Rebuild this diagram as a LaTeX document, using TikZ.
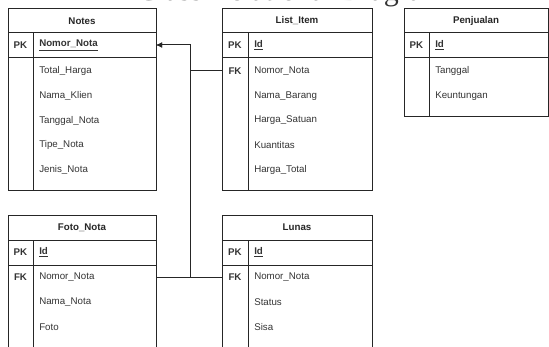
\documentclass[tikz,border=0pt]{standalone}
\usepackage{fontspec}
\setmainfont{Liberation Sans}
\newfontfamily\titlefont{Liberation Serif}
\usetikzlibrary{arrows.meta}
\begin{document}
\begin{tikzpicture}[x=0.75pt,y=-0.75pt,
  tline/.style={draw=black!85, line width=0.75pt},
  conn/.style={draw=black!85, line width=0.75pt},
  hdr/.style={font=\fontsize{7.3}{8.5}\selectfont\bfseries, text=black!85, inner sep=0},
  fld/.style={font=\fontsize{7.3}{8.5}\selectfont, text=black!80, anchor=west, inner sep=0},
  key/.style={font=\fontsize{7.3}{8.5}\selectfont\bfseries, text=black!80, inner sep=0},
  pkf/.style={font=\fontsize{7.3}{8.5}\selectfont\bfseries, text=black!80, anchor=west, inner sep=0}]
\useasboundingbox (0,0) rectangle (549,346);
\clip (0,0) rectangle (549,346);
% clipped title
\node[font=\titlefont\fontsize{22.5}{24}\selectfont, text=black!80, anchor=base west, inner sep=0] (title) at (137,1) {Class Relational Diagram};
% ---------- Notes
\draw[tline] (8,9) rectangle (156,190);
\draw[tline] (8,33) -- (156,33) (8,58) -- (156,58) (33,33) -- (33,190);
\node[hdr] (notesh) at (82,21) {Notes};
\node[key] (notespkl) at (20.5,45.5) {PK};
\node[pkf] (notespkf) at (39,45.5) {\underline{Nomor\_Nota}};
\node[fld] (n1) at (39,71) {Total\_Harga};
\node[fld] (n2) at (39,96) {Nama\_Klien};
\node[fld] (n3) at (39,120.5) {Tanggal\_Nota};
\node[fld] (n4) at (39,145) {Tipe\_Nota};
\node[fld] (n5) at (39,170) {Jenis\_Nota};
\coordinate (notespk) at (156,45);
% ---------- List_Item
\draw[tline] (222,9) rectangle (372,190);
\draw[tline] (222,33) -- (372,33) (222,58) -- (372,58) (248,33) -- (248,190);
\node[hdr] (lih) at (297,21) {List\_Item};
\node[key] (lipkl) at (235,45.5) {PK};
\node[pkf] (lipkf) at (254,45.5) {\underline{Id}};
\node[key] (lifkl) at (235,71) {FK};
\node[fld] (l1) at (254,71) {Nomor\_Nota};
\node[fld] (l2) at (254,96) {Nama\_Barang};
\node[fld] (l3) at (254,120.5) {Harga\_Satuan};
\node[fld] (l4) at (254,145) {Kuantitas};
\node[fld] (l5) at (254,170) {Harga\_Total};
\coordinate (lifk) at (222,71);
% ---------- Penjualan
\draw[tline] (404,9) rectangle (548.5,116);
\draw[tline] (404,33) -- (548.5,33) (404,58) -- (548.5,58) (429,33) -- (429,116);
\node[hdr] (ph) at (476,21) {Penjualan};
\node[key] (ppkl) at (416.5,45.5) {PK};
\node[pkf] (ppkf) at (435,45.5) {\underline{Id}};
\node[fld] (p1) at (435,71) {Tanggal};
\node[fld] (p2) at (435,96) {Keuntungan};
% ---------- Foto_Nota
\draw[tline] (8,215) rectangle (156,370);
\draw[tline] (8,240) -- (156,240) (8,265) -- (156,265) (33,240) -- (33,370);
\node[hdr] (fh) at (82,227.5) {Foto\_Nota};
\node[key] (fpkl) at (20.5,252.5) {PK};
\node[pkf] (fpkf) at (39,252.5) {\underline{Id}};
\node[key] (ffkl) at (20.5,277) {FK};
\node[fld] (f1) at (39,277) {Nomor\_Nota};
\node[fld] (f2) at (39,302) {Nama\_Nota};
\node[fld] (f3) at (39,327) {Foto};
\coordinate (fotofk) at (156,277);
% ---------- Lunas
\draw[tline] (222,215) rectangle (372,370);
\draw[tline] (222,240) -- (372,240) (222,265) -- (372,265) (248,240) -- (248,370);
\node[hdr] (luh) at (297,227.5) {Lunas};
\node[key] (lupkl) at (235,252.5) {PK};
\node[pkf] (lupkf) at (254,252.5) {\underline{Id}};
\node[key] (lufkl) at (235,277) {FK};
\node[fld] (u1) at (254,277) {Nomor\_Nota};
\node[fld] (u2) at (254,302) {Status};
\node[fld] (u3) at (254,327) {Sisa};
\coordinate (lunasfk) at (222,277);
% ---------- connectors
\coordinate (j1) at (190,71);
\coordinate (j2) at (190,277);
\draw[conn,-{Latex[length=4.5pt,width=4pt]}] (lifk) -- (j1) |- (notespk);
\draw[conn,-{Latex[length=4.5pt,width=4pt]}] (fotofk) -- (j2) |- (notespk);
\draw[conn] (lunasfk) -- (j2);
\end{tikzpicture}
\end{document}
